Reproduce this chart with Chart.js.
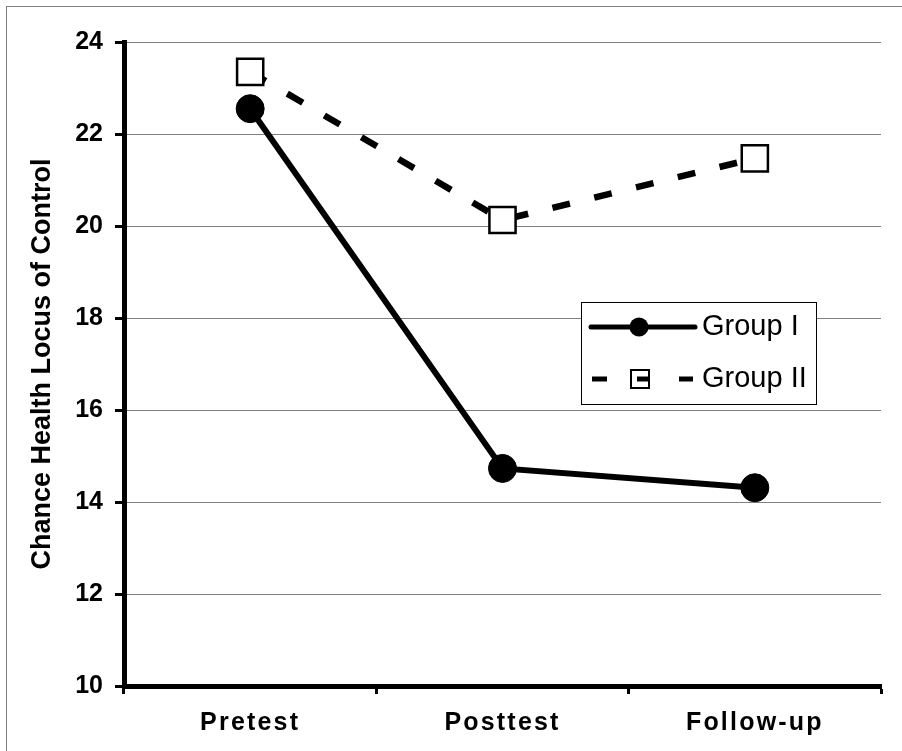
<!DOCTYPE html>
<html>
<head>
<meta charset="utf-8">
<title>Chance Health Locus of Control</title>
<script src="https://cdn.jsdelivr.net/npm/chart.js@4.4.1/dist/chart.umd.min.js"></script>
<style>
  html, body { margin: 0; padding: 0; background: #fff; overflow: hidden; }
  #wrap { position: relative; width: 902px; height: 751px; overflow: hidden; }
  #frame { position: absolute; left: 6px; top: 6px; width: 1000px; height: 1000px; border: 1px solid #808080; }
  #chart { position: absolute; left: 0; top: 0; }
</style>
</head>
<body>
<div id="wrap">
  <div id="frame"></div>
  <canvas id="chart" width="902" height="751"></canvas>
</div>
<script>
// data
const categories = ['Pretest', 'Posttest', 'Follow-up'];
const groupI = [22.55, 14.73, 14.31];
const groupII = [23.35, 20.13, 21.47];
const seriesNames = ['Group I', 'Group II'];
const yTicks = [10, 12, 14, 16, 18, 20, 22, 24];
const yTitle = 'Chance Health Locus of Control';

const FONT = '"Liberation Sans", Arial, sans-serif';

// x labels in the original are widely spaced; ticks are drawn in their own layer (z:1)
const spacingPlugin = {
    id: 'xSpacing',
    afterDatasetsDraw(chart) { chart.ctx.letterSpacing = '2.2px'; },
    afterDraw(chart) { chart.ctx.letterSpacing = '0px'; }
};

// legend box sitting inside the plot area, like the Excel original
const boxLegend = {
    id: 'boxLegend',
    afterDraw(chart) {
        const ctx = chart.ctx;
        const left = 581, top = 302, w = 235, h = 102;
        const row1 = top + 25, row2 = top + 77;
        ctx.save();
        ctx.letterSpacing = '0px';
        ctx.fillStyle = '#fff';
        ctx.fillRect(left, top, w, h);
        ctx.strokeStyle = '#000';
        ctx.lineWidth = 1;
        ctx.strokeRect(left + 0.5, top + 0.5, w, h);

        // Group I sample: solid line + dot
        ctx.lineCap = 'round';
        ctx.lineWidth = 5;
        ctx.beginPath();
        ctx.moveTo(left + 10, row1);
        ctx.lineTo(left + 114, row1);
        ctx.stroke();
        ctx.fillStyle = '#000';
        ctx.beginPath();
        ctx.arc(left + 58, row1, 9.5, 0, Math.PI * 2);
        ctx.fill();

        // Group II sample: dashes + open square
        ctx.lineCap = 'butt';
        ctx.beginPath();
        ctx.moveTo(left + 11, row2); ctx.lineTo(left + 26, row2);
        ctx.moveTo(left + 98, row2); ctx.lineTo(left + 112, row2);
        ctx.stroke();
        ctx.fillStyle = '#fff';
        ctx.lineWidth = 2;
        ctx.fillRect(left + 50, row2 - 9, 18, 18);
        ctx.strokeRect(left + 50, row2 - 9, 18, 18);
        ctx.lineWidth = 5;
        ctx.beginPath();
        ctx.moveTo(left + 56, row2); ctx.lineTo(left + 69, row2);
        ctx.stroke();

        ctx.fillStyle = '#000';
        ctx.font = '29px ' + FONT;
        ctx.textBaseline = 'middle';
        ctx.textAlign = 'left';
        ctx.fillText(seriesNames[0], left + 121, row1);
        ctx.fillText(seriesNames[1], left + 121, row2);
        ctx.restore();
    }
};

new Chart(document.getElementById('chart'), {
    type: 'line',
    data: {
        labels: categories,
        datasets: [
            {
                label: seriesNames[0],
                data: groupI,
                borderColor: '#000',
                borderWidth: 6,
                pointStyle: 'circle',
                pointRadius: 14,
                pointBackgroundColor: '#000',
                pointBorderColor: '#000',
                pointBorderWidth: 1,
                tension: 0
            },
            {
                label: seriesNames[1],
                data: groupII,
                borderColor: '#000',
                borderWidth: 6.5,
                borderDash: [18, 25],
                pointStyle: 'rect',
                pointRadius: 18.5,
                pointBackgroundColor: '#fff',
                pointBorderColor: '#000',
                pointBorderWidth: 2.5,
                tension: 0
            }
        ]
    },
    options: {
        responsive: false,
        animation: false,
        devicePixelRatio: 1,
        layout: { padding: { top: 42, right: 15, bottom: 0, left: 0 } },
        plugins: {
            legend: { display: false },
            tooltip: { enabled: false }
        },
        scales: {
            x: {
                offset: true,
                grid: {
                    offset: true,
                    drawOnChartArea: false,
                    tickLength: 8,
                    tickColor: '#000',
                    tickWidth: 3
                },
                border: { color: '#000', width: 5 },
                ticks: {
                    z: 1,
                    color: '#000',
                    padding: 14,
                    maxRotation: 0,
                    font: { family: FONT, size: 25, weight: 'bold' }
                },
                afterFit(scale) {
                    scale.height = 65;
                    scale.paddingLeft = 0;
                    scale.paddingRight = 0;
                }
            },
            y: {
                min: 10,
                max: 24,
                afterBuildTicks(scale) { scale.ticks = yTicks.map(v => ({ value: v })); },
                grid: {
                    color: '#808080',
                    lineWidth: 1,
                    tickLength: 9,
                    tickColor: '#000',
                    tickWidth: 3
                },
                border: { color: '#000', width: 5 },
                ticks: {
                    color: '#000',
                    padding: 12,
                    font: { family: FONT, size: 25, weight: 'bold' }
                },
                title: {
                    display: true,
                    text: yTitle,
                    color: '#000',
                    padding: { top: 26, bottom: 0 },
                    font: { family: FONT, size: 27, weight: 'bold' }
                },
                afterFit(scale) { scale.width = 124; }
            }
        }
    },
    plugins: [spacingPlugin, boxLegend]
});
</script>
</body>
</html>
